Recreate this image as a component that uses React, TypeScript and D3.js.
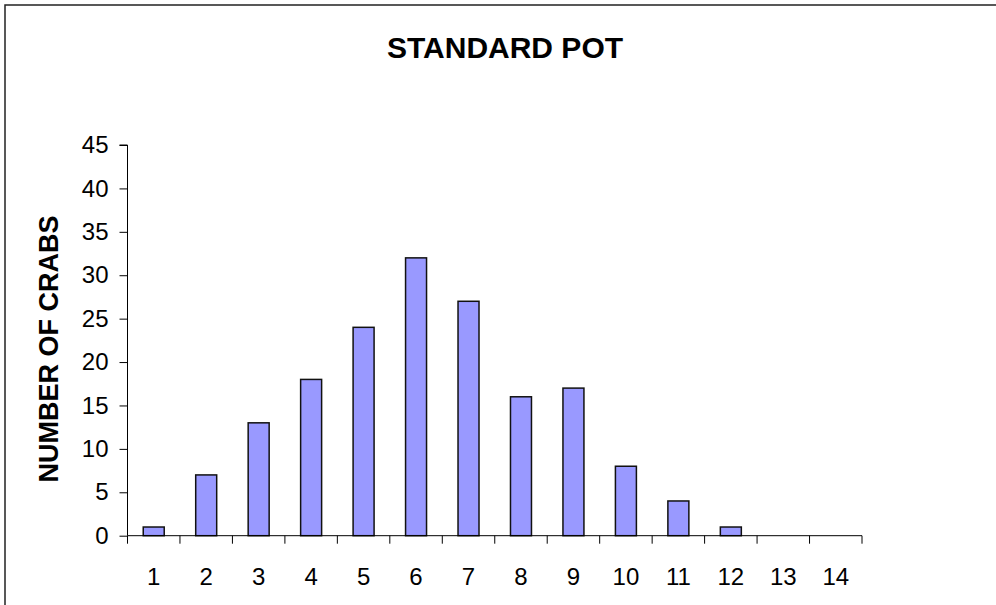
import React, { useRef, useEffect } from 'react';
import * as d3 from 'd3';

const categories = ['1', '2', '3', '4', '5', '6', '7', '8', '9', '10', '11', '12', '13', '14'];
const crabs = [1, 7, 13, 18, 24, 32, 27, 16, 17, 8, 4, 1, 0, 0];
const yTicks = [0, 5, 10, 15, 20, 25, 30, 35, 40, 45];

const W = 996;
const H = 605;

const App = () => {
    const ref = useRef<SVGSVGElement>(null);

    useEffect(() => {
        const svg = d3.select(ref.current);
        svg.selectAll('*').remove();

        const left = 127.5, right = 862, top = 145, bottom = 535.7;
        const font = 'Arial, "Liberation Sans", sans-serif';

        // chart frame (left and top edges visible)
        svg.append('path')
            .attr('d', `M5,${H} L5,5 L${W},5`)
            .attr('fill', 'none')
            .attr('stroke', '#222')
            .attr('stroke-width', 1.5);

        const x = d3.scaleBand()
            .domain(categories)
            .range([left, right]);

        const y = d3.scaleLinear()
            .domain([0, 45])
            .range([bottom, top]);

        const data = categories.map((c, i) => ({ c, v: crabs[i] }));

        // bars
        const bw = x.bandwidth() * 0.4;
        svg.append('g')
            .selectAll('rect')
            .data(data.filter(d => d.v > 0))
            .join('rect')
            .attr('x', d => x(d.c)! + (x.bandwidth() - bw) / 2)
            .attr('y', d => y(d.v))
            .attr('width', bw)
            .attr('height', d => y(0) - y(d.v))
            .attr('fill', '#9999FF')
            .attr('stroke', '#111')
            .attr('stroke-width', 1.5);

        // y axis
        const gy = svg.append('g')
            .attr('transform', `translate(${left},0)`)
            .call(d3.axisLeft(y).tickValues(yTicks).tickSize(8).tickPadding(11));
        gy.select('.domain').attr('stroke', '#000').attr('d', `M-8,${top}H0V${bottom}`);
        gy.selectAll('.tick line').attr('stroke', '#000');
        gy.selectAll('text')
            .attr('font-family', font)
            .attr('font-size', 24)
            .attr('fill', '#000');

        // x axis with ticks at band boundaries
        const gx = svg.append('g').attr('transform', `translate(0,${bottom})`);
        gx.append('line')
            .attr('x1', left).attr('x2', right)
            .attr('stroke', '#000');
        const edges = categories.map(c => x(c)!).concat([right]);
        gx.selectAll('line.tk')
            .data(edges)
            .join('line')
            .attr('class', 'tk')
            .attr('x1', d => d).attr('x2', d => d)
            .attr('y1', 0).attr('y2', 8)
            .attr('stroke', '#000');
        gx.selectAll('text')
            .data(categories)
            .join('text')
            .attr('x', d => x(d)! + x.bandwidth() / 2)
            .attr('y', 49)
            .attr('text-anchor', 'middle')
            .attr('font-family', font)
            .attr('font-size', 24)
            .text(d => d);

        // title
        svg.append('text')
            .attr('x', 505)
            .attr('y', 58)
            .attr('text-anchor', 'middle')
            .attr('font-family', font)
            .attr('font-weight', 'bold')
            .attr('font-size', 30)
            .text('STANDARD POT');

        // y axis title
        svg.append('text')
            .attr('transform', `translate(58,349) rotate(-90)`)
            .attr('text-anchor', 'middle')
            .attr('font-family', font)
            .attr('font-weight', 'bold')
            .attr('font-size', 27)
            .text('NUMBER OF CRABS');
    }, []);

    return (
        <svg ref={ref} width={W} height={H} style={{ position: 'absolute', left: 0, top: 0, background: '#fff' }}></svg>
    );
};

export default App;
